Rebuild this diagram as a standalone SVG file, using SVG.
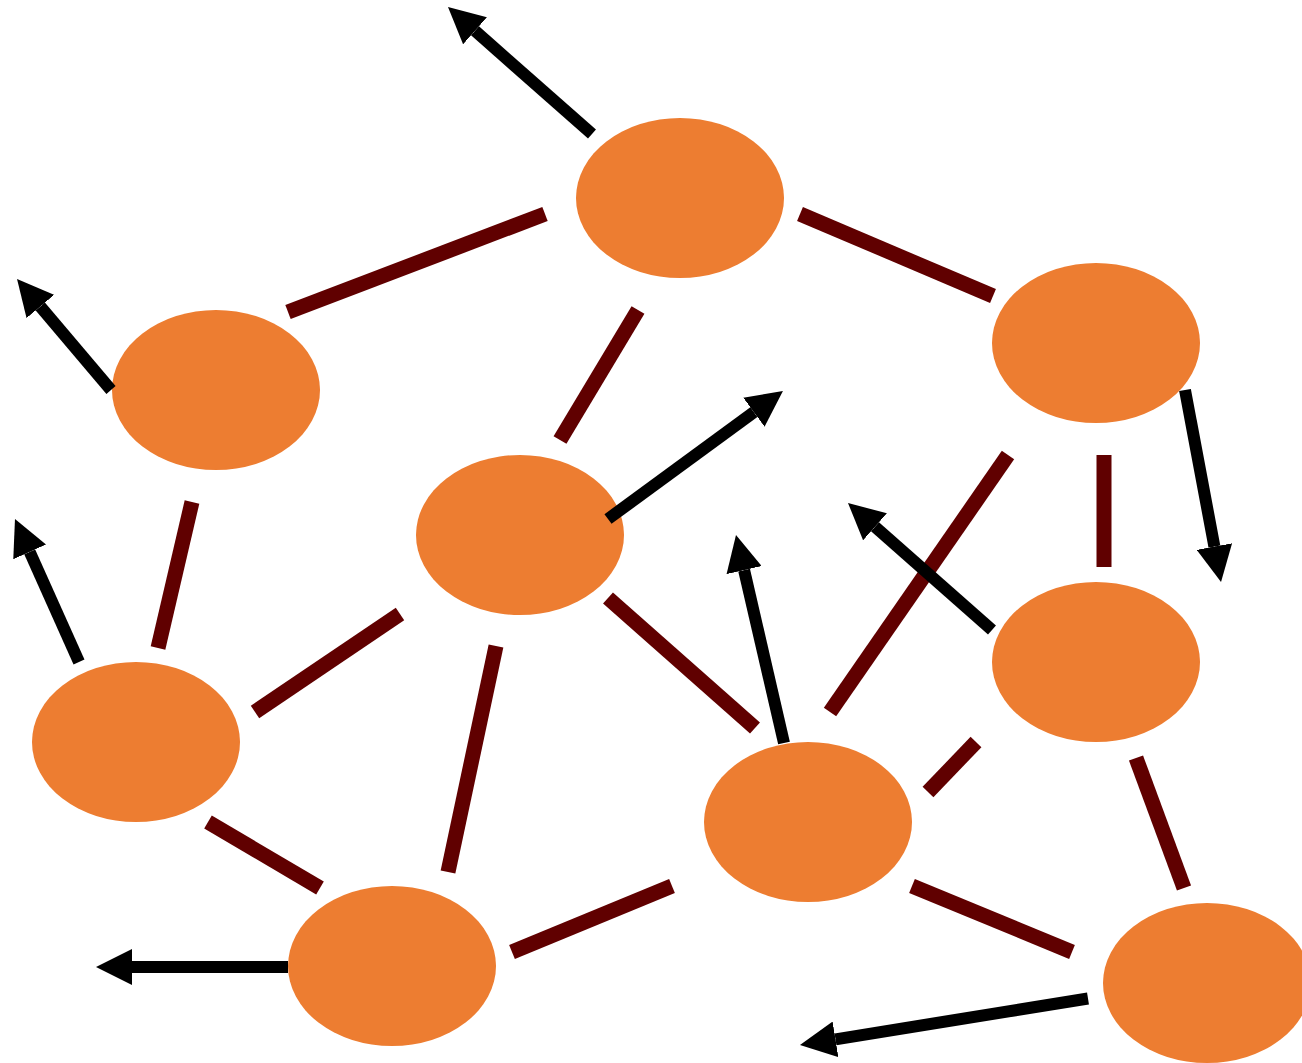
<svg xmlns="http://www.w3.org/2000/svg" width="1302" height="1063" viewBox="0 0 1302 1063">
<style>
.node{fill:#ED7D31}
.edge{stroke:#600000;stroke-width:15;fill:none}
.arrow{stroke:#000;stroke-width:12;fill:none;marker-end:url(#head)}
</style>
<defs>
<marker id="head" markerUnits="userSpaceOnUse" markerWidth="36" markerHeight="36" viewBox="0 0 36 36" refX="0" refY="18" orient="auto">
<path d="M0,0 L36,18 L0,36 z" fill="#000"/>
</marker>
</defs>
<rect width="1302" height="1063" fill="#fff"/>
<g id="n1"><ellipse class="node" cx="680" cy="198" rx="104" ry="80"/></g>
<g id="n2"><ellipse class="node" cx="216" cy="390" rx="104" ry="80"/></g>
<g id="n3"><ellipse class="node" cx="1096" cy="343" rx="104" ry="80"/></g>
<g id="n4"><ellipse class="node" cx="520" cy="535" rx="104" ry="80"/></g>
<g id="n5"><ellipse class="node" cx="136" cy="742" rx="104" ry="80"/></g>
<g id="n6"><ellipse class="node" cx="1096" cy="662" rx="104" ry="80"/></g>
<g id="n7"><ellipse class="node" cx="808" cy="822" rx="104" ry="80"/></g>
<g id="n8"><ellipse class="node" cx="392" cy="966" rx="104" ry="80"/></g>
<g id="n9"><ellipse class="node" cx="1207" cy="983" rx="104" ry="80"/></g>
<g id="connectors">
<line class="edge" x1="288" y1="312" x2="545" y2="214"/>
<line class="edge" x1="800" y1="214" x2="993" y2="296"/>
<line class="edge" x1="638" y1="310" x2="560" y2="440"/>
<line class="edge" x1="192" y1="502" x2="158" y2="648"/>
<line class="edge" x1="1104" y1="455" x2="1104" y2="567"/>
<line class="edge" x1="1008" y1="455" x2="830" y2="712"/>
<line class="edge" x1="255" y1="712" x2="400" y2="614"/>
<line class="edge" x1="608" y1="598" x2="755" y2="728"/>
<line class="edge" x1="496" y1="646" x2="448" y2="872"/>
<line class="edge" x1="208" y1="822" x2="320" y2="888"/>
<line class="edge" x1="928" y1="792" x2="976" y2="742"/>
<line class="edge" x1="1136" y1="758" x2="1184" y2="888"/>
<line class="edge" x1="512" y1="952" x2="672" y2="886"/>
<line class="edge" x1="912" y1="886" x2="1072" y2="952"/>
<line class="arrow" x1="592" y1="134" x2="475" y2="30.8"/>
<line class="arrow" x1="111" y1="390" x2="40.3" y2="306.5"/>
<line class="arrow" x1="608" y1="519" x2="753.9" y2="412.2"/>
<line class="arrow" x1="79" y1="662" x2="29.7" y2="551.9"/>
<line class="arrow" x1="1185" y1="390" x2="1214.4" y2="546.6"/>
<line class="arrow" x1="992" y1="630" x2="875" y2="526.8"/>
<line class="arrow" x1="784" y1="743" x2="744.1" y2="570.1"/>
<line class="arrow" x1="288" y1="967" x2="132" y2="967"/>
<line class="arrow" x1="1088" y1="998.5" x2="835.5" y2="1039.3"/>
</g>
</svg>
